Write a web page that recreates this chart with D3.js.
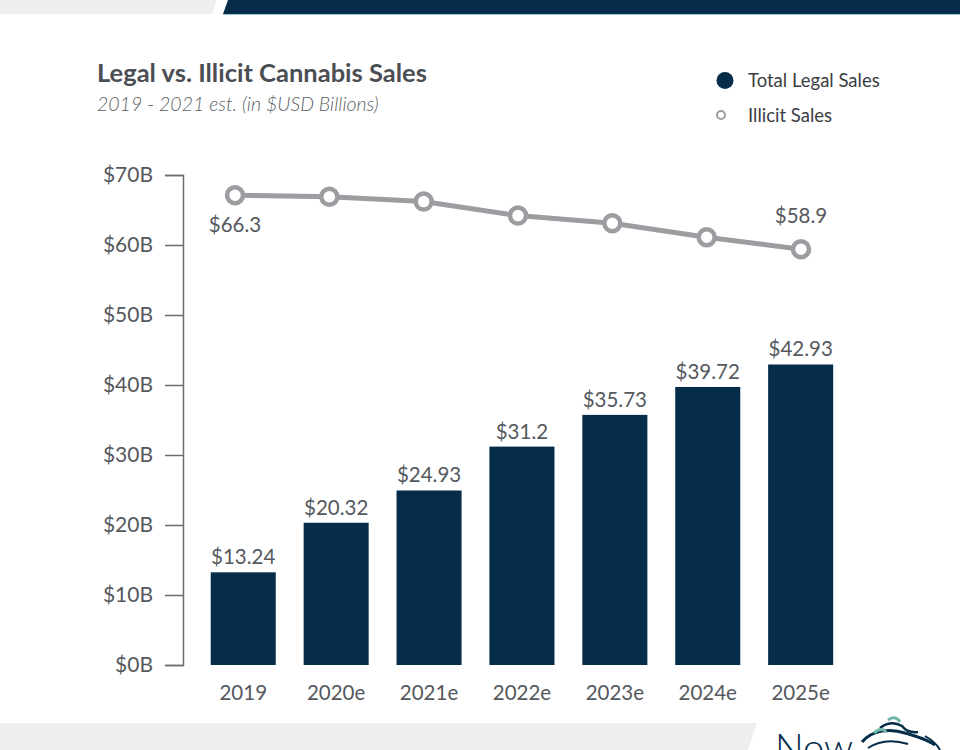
<!DOCTYPE html>
<html>
<head>
<meta charset="utf-8">
<script src="https://cdn.jsdelivr.net/npm/d3@7"></script>
<style>
  html, body { margin: 0; padding: 0; background: #ffffff; }
  svg { display: block; font-family: Lato, "Open Sans", sans-serif; }
</style>
</head>
<body>
<svg id="chart" width="960" height="750"></svg>
<script>
// ---- data ----
const years = ["2019", "2020e", "2021e", "2022e", "2023e", "2024e", "2025e"];
const legalSales = [13.24, 20.32, 24.93, 31.2, 35.73, 39.72, 42.93];
const legalLabels = ["$13.24", "$20.32", "$24.93", "$31.2", "$35.73", "$39.72", "$42.93"];
const illicitSales = [67.1, 66.9, 66.2, 64.2, 63.1, 61.1, 59.4];
const illicitLabels = ["$66.3", "", "", "", "", "", "$58.9"];
const yTicks = [0, 10, 20, 30, 40, 50, 60, 70];
const seriesNames = ["Total Legal Sales", "Illicit Sales"];

const navy = "#052c49";
const lineGray = "#9c9da1";
const textGray = "#55585d";

const svg = d3.select("#chart");

// ---- decorative banners ----
svg.append("path").attr("d", "M0,0H217L212,14H0Z").attr("fill", "#eceef0");
svg.append("path").attr("d", "M228,0H960V14H223Z").attr("fill", navy);
svg.append("line").attr("x1", 223).attr("x2", 960).attr("y1", 14.5).attr("y2", 14.5)
  .attr("stroke", "#9cc6da").attr("stroke-width", 1);
svg.append("path").attr("d", "M0,723H757L748,750H0Z").attr("fill", "#eceef0");

// logo
const logo = svg.append("g");
logo.append("text").attr("x", 775).attr("y", 761).attr("font-size", 38)
  .attr("fill", navy).attr("font-weight", 300).text("Now");
logo.append("path").attr("d", "M862,742 C872,730 890,728 905,733 C915,736 925,738 935,745")
  .attr("fill", "none").attr("stroke", navy).attr("stroke-width", 3);
logo.append("path").attr("d", "M868,748 C880,740 895,740 908,744")
  .attr("fill", "none").attr("stroke", navy).attr("stroke-width", 2);
logo.append("path").attr("d", "M880,728 C888,722 895,722 902,726 C905,730 910,733 918,732")
  .attr("fill", "none").attr("stroke", navy).attr("stroke-width", 2.5);
logo.append("path").attr("d", "M888,720 C893,716 898,718 900,722")
  .attr("fill", "none").attr("stroke", "#6fb9a8").attr("stroke-width", 3);
logo.append("path").attr("d", "M874,733 C879,728 884,729 886,732")
  .attr("fill", "none").attr("stroke", "#6fb9a8").attr("stroke-width", 3);
logo.append("path").attr("d", "M925,736 C932,740 938,746 940,750")
  .attr("fill", "none").attr("stroke", navy).attr("stroke-width", 2);

// ---- titles ----
svg.append("text").attr("x", 97).attr("y", 82).attr("font-size", 25.5).attr("font-weight", 700)
  .attr("fill", "#4b4e53").text("Legal vs. Illicit Cannabis Sales");
svg.append("text").attr("x", 97).attr("y", 111).attr("font-size", 19.5).attr("font-style", "italic")
  .attr("font-weight", 300).attr("fill", "#5c5f64").text("2019 - 2021 est. (in $USD Billions)");

// ---- legend ----
const legend = svg.append("g");
legend.append("circle").attr("cx", 725).attr("cy", 80.5).attr("r", 8.5).attr("fill", navy);
legend.append("circle").attr("cx", 721).attr("cy", 115).attr("r", 4)
  .attr("fill", "#fff").attr("stroke", lineGray).attr("stroke-width", 2);
legend.selectAll("text.leg").data(seriesNames).join("text").attr("class", "leg")
  .attr("x", 748).attr("y", (d, i) => 87 + i * 34.5)
  .attr("font-size", 18.5).attr("fill", "#3a3d42").text(d => d);

// ---- scales ----
const y = d3.scaleLinear().domain([0, 70]).range([665, 175]);
const x = d3.scaleBand().domain(years).range([196.8, 847.1])
  .paddingInner(0.3).paddingOuter(0.15);
const xLine = d3.scalePoint().domain(years).range([235, 801]);

// ---- y axis ----
const yAxis = svg.append("g").attr("transform", "translate(183,0)")
  .call(d3.axisLeft(y).tickValues(yTicks).tickSize(18).tickPadding(12)
    .tickFormat(d => `$${d}B`));
yAxis.selectAll("path, line").attr("stroke", "#6a6c70").attr("stroke-width", 1.5);
yAxis.selectAll("text").attr("font-size", 21).attr("fill", textGray)
  .attr("font-family", "Lato, sans-serif");

// ---- x labels ----
svg.append("g").selectAll("text").data(years).join("text")
  .attr("x", d => x(d) + x.bandwidth() / 2).attr("y", 700)
  .attr("text-anchor", "middle").attr("font-size", 20.5).attr("fill", textGray)
  .text(d => d);

// ---- bars ----
svg.append("g").selectAll("rect").data(years).join("rect")
  .attr("x", d => x(d)).attr("width", x.bandwidth())
  .attr("y", (d, i) => y(legalSales[i])).attr("height", (d, i) => y(0) - y(legalSales[i]))
  .attr("fill", navy);

svg.append("g").selectAll("text").data(years).join("text")
  .attr("x", d => x(d) + x.bandwidth() / 2)
  .attr("y", (d, i) => y(legalSales[i]) - 8)
  .attr("text-anchor", "middle").attr("font-size", 20.5).attr("fill", textGray)
  .text((d, i) => legalLabels[i]);

// ---- illicit line ----
const line = d3.line().x(d => xLine(d)).y((d, i) => y(illicitSales[i]));
svg.append("path").datum(years).attr("d", line)
  .attr("fill", "none").attr("stroke", lineGray).attr("stroke-width", 5);
svg.append("g").selectAll("circle").data(years).join("circle")
  .attr("cx", d => xLine(d)).attr("cy", (d, i) => y(illicitSales[i]))
  .attr("r", 8).attr("fill", "#fff").attr("stroke", lineGray).attr("stroke-width", 4.5);

svg.append("g").selectAll("text").data(years).join("text")
  .attr("x", d => xLine(d))
  .attr("y", (d, i) => i === 0 ? y(illicitSales[i]) + 37 : y(illicitSales[i]) - 26)
  .attr("text-anchor", "middle").attr("font-size", 20.5).attr("fill", textGray)
  .text((d, i) => illicitLabels[i]);
</script>
</body>
</html>
